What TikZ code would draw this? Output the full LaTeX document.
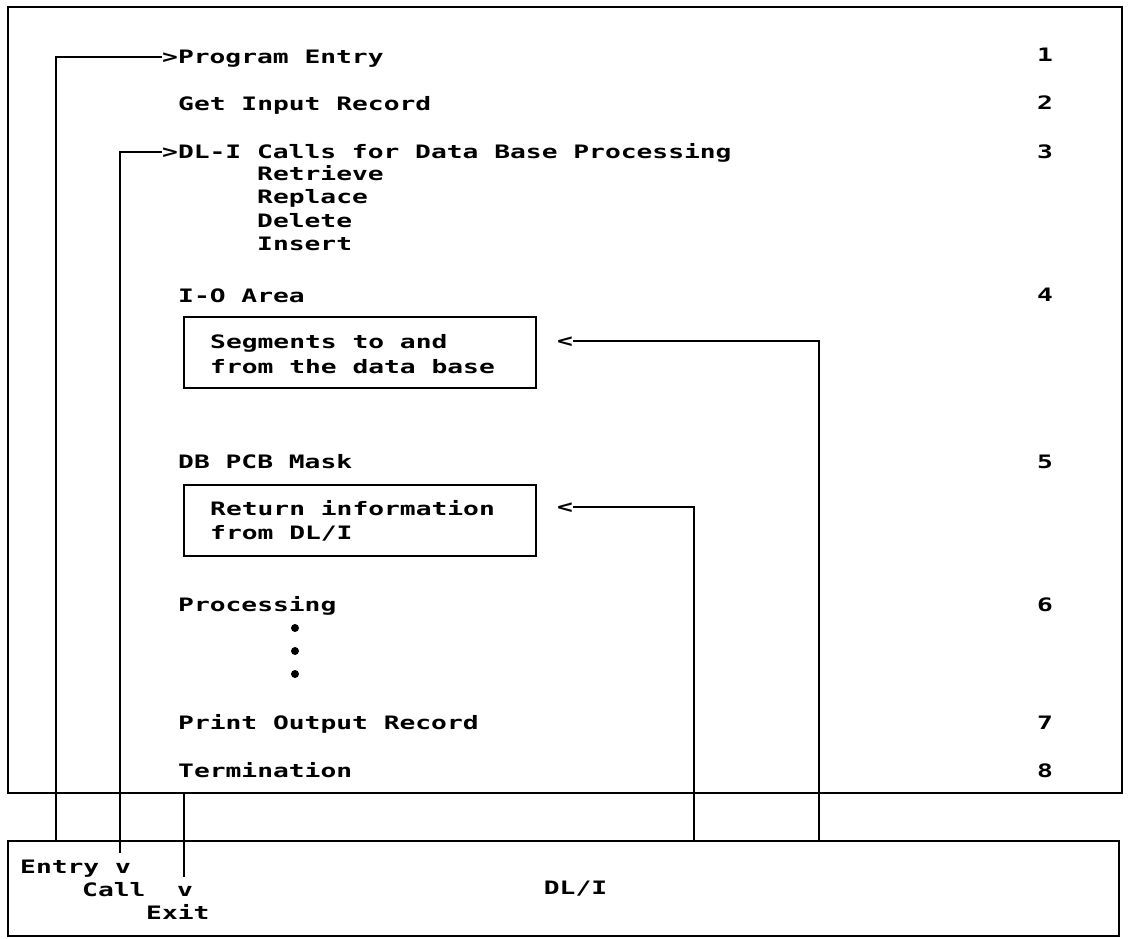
\documentclass[tikz,border=0pt]{standalone}
\usepackage{fontspec}
\newfontfamily\ibmfont[FakeStretch=1.42]{DejaVu Sans Mono}

\begin{document}
\begin{tikzpicture}[
        x=1pt, y=-1pt,
        frame/.style={draw, line width=1.8pt, inner sep=0pt},
        txt/.style={font=\ibmfont\bfseries\fontsize{18.5}{25}\selectfont,
                    inner sep=0pt, text height=13pt, text depth=0pt, anchor=west},
        num/.style={txt, anchor=center},
        memo/.style={frame, anchor=north west, minimum width=352pt,
                     minimum height=71pt},
        wire/.style={line width=2pt},
        dot/.style={circle, fill, inner sep=0pt, minimum size=8pt}
    ]
    \useasboundingbox (0,0) rectangle (1129,938);
    % Application program and DL/I
    \node[frame, minimum width=1114pt, minimum height=786pt] (pgm) at (565,400) {};
    \node[frame, minimum width=1111pt, minimum height=95pt] (dli) at (563.5,888.5) {};
    \node[num] (dlilbl) at (575.5,888) {DL/I};
    % Program sections
    \node[txt] (entry) at (162,57) {>Program Entry};
    \node[txt] (getin) at (178,104) {Get Input Record};
    \node[txt] (calls) at (162,152) {>DL-I Calls for Data Base Processing};
    \foreach \w [count=\i] in {Retrieve, Replace, Delete, Insert}
        \node[txt] (op\i) at (257,150+23.6*\i) {\w};
    \node[txt] (ioarea) at (178,296) {I-O Area};
    \node[memo] (segbox) at (183,316) {};
    \node[txt] (seg1) at (210,342) {Segments to and};
    \node[txt] (seg2) at (210,367) {from the data base};
    \node[txt] (pcbmask) at (178,462) {DB PCB Mask};
    \node[memo] (retbox) at (183,484) {};
    \node[txt] (ret1) at (210,509) {Return information};
    \node[txt] (ret2) at (210,533) {from DL/I};
    \node[txt] (proc) at (178,605) {Processing};
    \foreach \y [count=\i] in {628, 651, 674}
        \node[dot] (dot\i) at (295,\y) {};
    \node[txt] (printout) at (178,723) {Print Output Record};
    \node[txt] (term) at (178,771) {Termination};
    % Step numbers
    \foreach \n/\y in {1/55, 2/103, 3/152, 4/295, 5/462, 6/605, 7/723, 8/771}
        \node[num] (step\n) at (1045,\y) {\n};
    % Return arrows
    \node[txt] (segarr) at (557,341) {<};
    \node[txt] (retarr) at (557,507) {<};
    % Labels in DL/I
    \node[txt] (entrylbl) at (20,867) {Entry v};
    \node[txt] (calllbl) at (82,890) {Call\ \ v};
    \node[txt] (exitlbl) at (146,913) {Exit};
    % Control flow
    \coordinate (entryfoot) at (56,841);
    \coordinate (callfoot) at (120,853);
    \coordinate (exitfoot) at (184,877);
    \coordinate (pcbfoot) at (694,841);
    \coordinate (iofoot) at (819,841);
    \draw[wire] (entryfoot) |- (entry.west);
    \draw[wire] (callfoot) |- (calls.west);
    \draw[wire] (pgm.south -| exitfoot) -- (exitfoot);
    \draw[wire] (iofoot) |- (segarr.east);
    \draw[wire] (pcbfoot) |- (retarr.east);
\end{tikzpicture}
\end{document}
